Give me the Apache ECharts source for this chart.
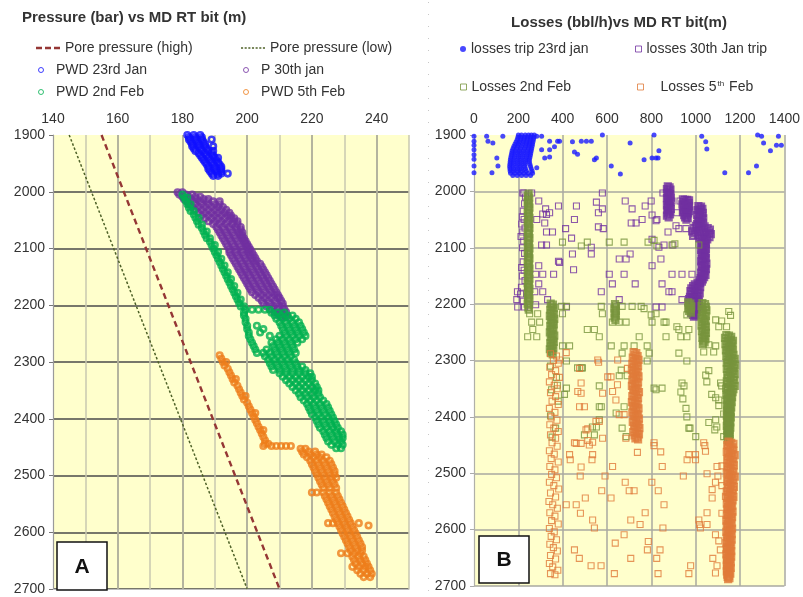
<!DOCTYPE html>
<html><head><meta charset="utf-8">
<script src="https://cdn.jsdelivr.net/npm/echarts@6/dist/echarts.min.js"></script>
<style>html,body{margin:0;padding:0;background:#fff}#c{width:803px;height:597px}</style>
</head><body><div id="c"></div>
<script>
// ---------- tick labels ----------
const leftXTicks = [140, 160, 180, 200, 220, 240];
const depthTicks = [1900, 2000, 2100, 2200, 2300, 2400, 2500, 2600, 2700];
const rightXTicks = [0, 200, 400, 600, 800, 1000, 1200, 1400];

// ---------- LEFT CHART DATA: Pressure (bar) vs MD RT bit (m) ----------
const poreHigh = [[155, 1900], [210, 2700]];
const poreLow = [[145, 1900], [200, 2700]];

// rows: [depth (m), [pressures (bar) read at that depth]]
const pwd23JanRows = [
  [1900,[181.5,183.5,185.5]],[1904,[182,184,186]],[1908,[182,184,186,189]],[1912,[182.5,184.5,186.5]],
  [1916,[183,185,187]],[1920,[183,185,187,189.5]],[1924,[183.5,185.5,187.5]],[1928,[184,186,188,189.5]],
  [1932,[185,187,189]],[1936,[185.5,187.5,189.5]],[1940,[186,188,190,191]],[1944,[186.5,188.5,190.5]],
  [1948,[187,189,191]],[1952,[187.5,189.5,191.5]],[1956,[188,190,192]],[1960,[188,190,192]],
  [1964,[188.5,190.5,192]],[1968,[189,191,192,194]],[1972,[189.5,191]]
];
const p30JanRows = [
  [2001,[178.5,180]],[2005,[179,181,183]],[2009,[180,182,184,185.5]],[2013,[180.5,182.5,184.5,186.5,188]],
  [2017,[181.5,183.5,185.5,187.5,189.5,191.5]],[2022,[182,184,186,188,190,191.5]],
  [2027,[183,185,187,189,191,192.5]],[2032,[184,186,188,190,192,193.5]],[2037,[185,187,189,191,193,194.5]],
  [2042,[186,188,190,192,194,195]],[2047,[187,189,191,193,195,196]],[2052,[188,190,192,194,196,197]],
  [2057,[189.5,191.5,193.5,195.5,197]],[2062,[190.5,192.5,194.5,196.5,198]],[2067,[191,193,195,197,198]],
  [2072,[191.5,193.5,195.5,197.5,198.5]],[2077,[192,194,196,198,198.5]],[2082,[192.5,194.5,196.5,198.5,199]],
  [2087,[193,195,197,199,199.5]],[2092,[193.5,195.5,197.5,199.5,200]],[2097,[194,196,198,200,200.5]],
  [2102,[194.5,196.5,198.5,200.5,201]],[2107,[194.5,196.5,198.5,200.5,201.5]],[2112,[195,197,199,201,202]],
  [2117,[195.5,197.5,199.5,201.5,202.5]],[2122,[196,198,200,202,203]],[2127,[196.5,198.5,200.5,202.5,204]],
  [2132,[197,199,201,203,204.5]],[2137,[197.5,199.5,201.5,203.5,205]],[2142,[198,200,202,204,205.5]],
  [2147,[198.5,200.5,202.5,204.5,206]],[2152,[199,201,203,205,206.5]],[2157,[199.5,201.5,203.5,205.5,207]],
  [2162,[200,202,204,206,207.5]],[2167,[200.5,202.5,204.5,206.5,208]],[2172,[201,203,205,207,208.5]],
  [2177,[201.5,203.5,205.5,207.5,209]],[2182,[202.5,204.5,206.5,208.5,209.5]],[2187,[203.5,205.5,207.5,209.5,210]],
  [2192,[204.5,206.5,208.5,210.5]],[2197,[205,207,209,211]],[2202,[206,208,210,211]],
  [2207,[207.5,209.5,211.5]],[2212,[208.5,210.5,212]],[2217,[209.5,211.5]],[2221,[210.5,212]]
];
const pwd2FebRows = [
  [2005,[180]],[2010,[180.5,181.5]],[2016,[181]],[2022,[181.5,182.5]],[2028,[182]],[2034,[182.5,183.5]],
  [2040,[183.5]],[2046,[184,185]],[2052,[184.5]],[2058,[185,186]],[2064,[186]],[2070,[186.5,187.5]],
  [2076,[187]],[2082,[187.5,188.5]],[2088,[188.5]],[2094,[189,190]],[2100,[189.5]],[2106,[190,191]],
  [2112,[190.5]],[2118,[191,192]],[2124,[191.5]],[2130,[192,193]],[2136,[192.5]],[2142,[193,194]],
  [2148,[193.5]],[2154,[194,195]],[2160,[194.5]],[2166,[195,196]],[2172,[195.5]],[2178,[196,197]],
  [2184,[196.5]],[2190,[197,198]],[2196,[197.5]],[2202,[198,199]],
  [2208,[199.5,201.5,203.5,205.5,207]],[2213,[199,207.5,209.5,211.5]],[2218,[199,208.5,210.5,212.5,214]],
  [2224,[199.5,209,211,213,215]],[2230,[199.5,210,212,214,216]],[2236,[200,203,210.5,212.5,214.5,216.5]],
  [2242,[200,205,211,213,215,217]],[2248,[200.5,204,211.5,213.5,215.5,217.5]],
  [2254,[200.5,207,210,212,214,216,218]],[2260,[201,209,211,213,215,217]],
  [2266,[201.5,207.5,209.5,211.5,213.5,215.5]],[2272,[202,208,210,212,214]],
  [2278,[202.5,206,208.5,210.5,212.5,214.5]],[2284,[203,205,207,209,211,213,215]],
  [2290,[205.5,207.5,209.5,211.5,213.5]],[2296,[206.5,208.5,210.5,212.5,214.5]],
  [2302,[207,209,211,213,215]],[2308,[207.5,209.5,211.5,213.5,215.5,217]],
  [2314,[208,210,212,214,216,218]],[2320,[210,212,214,216,218,219.5]],[2326,[211,213,215,217,219,220]],
  [2332,[212,214,216,218,220]],[2338,[213,215,217,219,221]],[2344,[214,216,218,220,221.5]],
  [2350,[215,217,219,221,222]],[2356,[216,218,220,222]],[2362,[216.5,218.5,220.5,222.5]],
  [2368,[217.5,219.5,221.5,223.5]],[2374,[218.5,220.5,222.5,224.5]],[2380,[219,221,223,225]],
  [2386,[219.5,221.5,223.5,225.5]],[2392,[220,222,224,226]],[2398,[221,223,225,226.5]],
  [2404,[221.5,223.5,225.5,227]],[2410,[222,224,226,227.5]],[2416,[222.5,224.5,226.5,228]],
  [2422,[223.5,225.5,227.5,229]],[2428,[224,226,228,229.5]],[2434,[224.5,226.5,228.5,229.5]],
  [2440,[225,227,229]],[2446,[226,228,229.5]],[2452,[227.5,229]]
];
const pwd5FebRows = [
  [2288,[191.5]],[2294,[192]],[2300,[192.5,193.5]],[2306,[193]],[2312,[194]],[2318,[194.5]],
  [2324,[195]],[2330,[195.5,196.5]],[2336,[196]],[2342,[197]],[2348,[197.5]],[2354,[198]],
  [2360,[198.5,199.5]],[2366,[199]],[2372,[200]],[2378,[200.5]],[2384,[201]],[2390,[201.5,202.5]],
  [2396,[202]],[2402,[202.5]],[2408,[203]],[2414,[203.5]],[2420,[204,205]],[2426,[204.5]],
  [2432,[205]],[2438,[205.5]],[2444,[205.5,206.5]],[2448,[205,207.5,209,210.5,212,213.5]],
  [2453,[216.5,218]],[2458,[217,219,221]],[2463,[217.5,219.5,221.5,223]],[2468,[218.5,220.5,222.5,224.5]],
  [2474,[219.5,221.5,223.5,225.5]],[2480,[220,222,224,226]],[2486,[220.5,222.5,224.5,226.5]],
  [2492,[221,223,225,227]],[2498,[221.5,223.5,225.5,227]],[2504,[222,224,226,227.5]],
  [2510,[222.5,224.5,226.5]],[2516,[223,225,227]],[2522,[223.5,225.5,227.5]],
  [2530,[220,221.5,223.5,225.5,227.5]],[2536,[224,226,228]],[2542,[224.5,226.5,228.5]],
  [2548,[225,227,229]],[2554,[225.5,227.5,229.5]],[2560,[226,228,230]],[2566,[226.5,228.5,230.5]],
  [2572,[227,229,231]],[2578,[227.5,229.5,231.5]],[2584,[225,226.5,228,230,232,234.5]],[2588,[237.5]],
  [2590,[228.5,230.5,232.5]],[2596,[229,231,233]],[2602,[229.5,231.5,233.5]],[2608,[230,232,234]],
  [2614,[230.5,232.5,234.5]],[2620,[231,233,235]],[2626,[231.5,233.5,235.5]],[2632,[232,234,235.5]],
  [2637,[229,231,233,235]],[2643,[232.5,234.5,236]],[2649,[233,235,236.5]],[2655,[233.5,235.5,237]],
  [2661,[232.5,234.5,236.5,237.5]],[2667,[234,236,238]],[2673,[235,237,238.5]],[2679,[236,238]]
];

// ---------- RIGHT CHART DATA: Losses (bbl/h) vs MD RT bit (m) ----------
const trip23JanClusterRows = [
  [1900,[200,214,231,246,259,272]],[1904,[198,212,228,242,256,270]],[1908,[195,210,225,240,255,268]],
  [1912,[190,205,222,238,252,266]],[1916,[185,200,218,235,250,264]],[1920,[180,196,214,232,248,262]],
  [1924,[176,192,210,228,245,260]],[1928,[172,188,206,224,242,258]],[1932,[170,186,204,222,240,256]],
  [1936,[168,184,202,220,238,254]],[1940,[166,182,200,218,236,252]],[1944,[164,180,198,216,234,250]],
  [1948,[163,178,196,214,232,250]],[1952,[162,177,195,213,231,252]],[1956,[161,176,194,212,230,255]],
  [1960,[162,178,196,214,232,258]],[1964,[163,180,198,216,236,262]],[1968,[165,184,204,224,244,264]],
  [1972,[175,195,215,235,255]]
];
const trip23JanScatter = [
  [0,1902],[0,1911],[0,1918],[0,1926],[0,1935],[0,1943],[0,1955],[0,1967],
  [57,1902],[63,1911],[85,1914],[130,1902],[103,1941],[108,1955],[81,1967],
  [283,1902],[305,1902],[341,1911],[377,1911],[386,1911],[305,1926],[341,1926],[363,1921],
  [319,1941],[341,1939],[283,1958],[444,1912],[453,1930],[467,1934],[484,1911],[507,1911],[529,1911],
  [579,1900],[552,1941],[543,1944],[619,1955],[660,1969],[704,1914],[767,1944],[803,1941],[821,1941],
  [830,1941],[812,1900],[834,1928],[1027,1902],[1045,1912],[1050,1925],[1131,1967],[1238,1967],
  [1274,1955],[1279,1900],[1297,1902],[1306,1914],[1337,1928],[1373,1902],[1364,1918],[1386,1918]
];
const trip30JanScatter = [
  [225,2003],[232,2010],[228,2022],[222,2035],[218,2045],[226,2050],[215,2058],[230,2065],[220,2072],
  [212,2080],[224,2088],[219,2100],[228,2110],[222,2125],[215,2135],[226,2140],[218,2150],[230,2158],
  [214,2170],[196,2178],[210,2182],[193,2192],[222,2195],[197,2205],[228,2205],
  [220,2003],[260,2003],[292,2017],[381,2026],[462,2026],[579,2003],[552,2019],[579,2031],[561,2038],
  [682,2017],[713,2031],[772,2026],[799,2017],[803,2042],[852,2003],[893,2017],[929,2017],[915,2038],
  [323,2031],[341,2038],[327,2041],[283,2050],[310,2040],[453,2050],[319,2056],[327,2072],[354,2072],
  [413,2066],[583,2066],[709,2056],[731,2056],[758,2050],[825,2050],[875,2072],[924,2066],[956,2066],
  [305,2095],[327,2095],[440,2083],[529,2099],[803,2085],[834,2099],[857,2095],[897,2095],[444,2111],
  [529,2111],[655,2120],[686,2120],[704,2111],[803,2132],[843,2120],[381,2124],[386,2126],[292,2132],
  [449,2139],[610,2147],[677,2147],[727,2164],[624,2164],[848,2164],[893,2147],[938,2147],[983,2147],
  [278,2147],[310,2147],[359,2147],[292,2164],[274,2178],[310,2178],[574,2178],[655,2192],[332,2192],
  [879,2178],[893,2178],[938,2192],[278,2201],[417,2205],[821,2205],[848,2205],[561,2063],[821,2052],
  [911,2061]
];
const trip30JanDense = [
  [874,1991],[882,1993],[870,1996],[886,1997],[878,2000],[872,2003],[884,2005],[876,2008],[888,2011],
  [870,2012],[880,2015],[874,2018],[886,2019],[878,2022],[870,2025],[884,2026],[876,2029],[888,2031],
  [872,2033],[880,2036],[874,2039],[884,2041],[870,2043],[878,2046],
  [942,2014],[952,2015],[962,2015],[970,2016],[946,2019],[958,2020],[968,2021],[940,2023],[950,2024],
  [962,2025],[970,2026],[944,2028],[956,2029],[966,2030],[948,2033],[960,2034],[970,2035],[942,2037],
  [954,2038],[966,2039],[948,2042],[960,2043],[952,2046],[964,2047],[958,2050],
  [1012,2026],[1024,2027],[1018,2030],[1030,2031],[1008,2033],[1022,2034],[1014,2037],[1032,2038],
  [1020,2041],[1006,2042],[1028,2044],[1016,2046],[1034,2048],[1010,2050],[1024,2052],[1016,2054],
  [1032,2056],[1006,2058],[1022,2059],[1000,2061],[1040,2062],[1014,2063],[990,2065],[1054,2065],
  [1028,2066],[1064,2068],[1004,2069],[1046,2070],[984,2071],[1020,2072],[1060,2073],[996,2074],
  [1036,2075],[1068,2076],[1010,2077],[1050,2078],[988,2079],[1026,2080],[1062,2081],[1040,2082],
  [1016,2083],[1052,2085],[1030,2086],[1044,2088],[1024,2090],[1038,2092],[1046,2094],[1028,2096],
  [1040,2098],[1032,2100],[1046,2102],[1024,2104],[1038,2106],[1030,2108],[1044,2110],[1026,2112],
  [1040,2114],[1034,2116],[1046,2118],[1028,2120],[1040,2122],[1024,2124],[1036,2126],[1048,2128],
  [1030,2130],[1042,2132],[1026,2134],[1038,2136],[1046,2138],[1030,2140],[1040,2142],[1024,2144],
  [1036,2146],[1044,2148],[1028,2150],[1038,2152],[1022,2154],[1032,2156],[1018,2158],[1028,2160],
  [1008,2162],[1020,2163],[996,2165],[1012,2166],[988,2168],[1004,2169],[1020,2170],[980,2172],
  [996,2173],[1012,2175],[976,2177],[990,2178],[1006,2179],[1018,2181],[982,2182],[998,2184],
  [1012,2185],[974,2187],[990,2188],[1006,2189],[970,2191],[984,2192],[1000,2193],[1014,2195],
  [976,2196],[992,2197],[1006,2199],[970,2200],[986,2201],[1000,2203],[1014,2204],[978,2205],
  [994,2207],[1008,2208],[982,2210],[998,2211],[988,2213],[1004,2214],[980,2216],[996,2217],
  [988,2219],[1000,2220],[992,2222]
];
const losses2FebScatter = [
  [511,2090],[677,2090],[785,2090],[812,2087],[893,2095],[906,2093],[399,2090],[1014,2095],[484,2097],
  [610,2090],[825,2097],[251,2217],[287,2217],[260,2232],[296,2232],[265,2245],[395,2204],[399,2217],
  [417,2204],[574,2204],[579,2217],[668,2204],[713,2204],[754,2204],[767,2208],[799,2219],[821,2217],
  [857,2232],[960,2219],[915,2240],[1090,2228],[1117,2230],[1149,2213],[1157,2220],[1139,2240],[1104,2240],
  [242,2258],[283,2258],[624,2232],[655,2232],[686,2232],[803,2232],[866,2232],[924,2245],[969,2245],
  [511,2245],[543,2245],[565,2258],[745,2258],[866,2258],[933,2258],[960,2258],[619,2274],[677,2274],
  [722,2274],[781,2274],[431,2274],[399,2274],[1059,2272],[1090,2274],[1081,2285],[1036,2285],[668,2287],
  [790,2287],[924,2287],[781,2301],[960,2301],[417,2301],[489,2313],[467,2313],[655,2327],[691,2327],
  [812,2349],[848,2349],[938,2340],[933,2356],[1045,2326],[1050,2338],[1112,2340],[1135,2349],[1090,2366],
  [1104,2370],[565,2382],[641,2393],[677,2382],[552,2418],[534,2418],[668,2420],[686,2435],[969,2420],
  [1000,2435],[1090,2405],[1095,2418],[417,2349],[484,2313],[664,2317],[565,2345],[565,2405],[574,2382],
  [821,2352],[947,2345],[942,2368],[956,2385],[960,2400],[974,2420],[1059,2410],[1086,2423],[1126,2435],
  [1059,2318],[1117,2345],[1072,2360],[1104,2380],[1126,2395],[498,2432],[543,2432],[408,2360],
  [345,2310],[372,2330],[350,2352],[380,2372],[345,2398],[368,2420],[352,2436],[376,2344]
];
const losses2FebDense = [
  [246,2004],[243,2008],[249,2011],[245,2015],[242,2019],[248,2022],[244,2026],[250,2029],[246,2033],
  [242,2037],[248,2040],[244,2044],[250,2047],[246,2051],[242,2055],[248,2058],[244,2062],[250,2065],
  [246,2069],[242,2073],[248,2076],[244,2080],[250,2083],[246,2087],[242,2091],[248,2094],[244,2098],
  [250,2101],[246,2105],[242,2109],[248,2112],[244,2116],[250,2119],[246,2123],[242,2127],[248,2130],
  [244,2134],[250,2137],[246,2141],[242,2145],[248,2148],[244,2152],[250,2155],[246,2159],[242,2163],
  [248,2166],[244,2170],[250,2173],[246,2177],[242,2181],[248,2184],[244,2188],[250,2191],[246,2195],
  [242,2199],[248,2202],[245,2206],[247,2210],
  [346,2199],[356,2201],[350,2205],[360,2207],[344,2210],[354,2212],[348,2216],[360,2218],[342,2221],
  [352,2223],[362,2226],[346,2228],[356,2231],[350,2234],[360,2236],[344,2239],[354,2242],[348,2245],
  [358,2247],[342,2250],[352,2253],[362,2256],[346,2258],[356,2261],[350,2264],[360,2267],[344,2269],
  [354,2272],[348,2275],[358,2278],[342,2280],[352,2283],[346,2286],[355,2289],
  [636,2200],[640,2204],[633,2208],[640,2212],[635,2216],[640,2220],[634,2224],[638,2228],
  [966,2197],[976,2199],[970,2202],[980,2204],[966,2207],[976,2209],[970,2212],[978,2215],
  [1030,2198],[1042,2200],[1026,2203],[1046,2205],[1034,2208],[1048,2211],[1028,2213],[1040,2216],
  [1032,2219],[1046,2221],[1026,2224],[1038,2227],[1044,2230],[1030,2232],[1040,2235],[1026,2238],
  [1046,2240],[1034,2243],[1042,2246],[1028,2248],[1046,2251],[1036,2254],[1040,2257],[1030,2260],
  [1044,2262],[1034,2265],[1040,2268],[1032,2271],
  [1138,2255],[1150,2256],[1160,2258],[1132,2260],[1146,2261],[1158,2263],[1168,2265],[1140,2266],
  [1152,2268],[1164,2270],[1134,2271],[1148,2273],[1160,2275],[1142,2277],[1156,2278],[1168,2280],
  [1136,2282],[1150,2283],[1162,2285],[1144,2287],[1156,2289],[1170,2290],[1138,2292],[1150,2294],
  [1164,2295],[1176,2297],[1144,2299],[1158,2300],[1170,2302],[1140,2304],[1152,2305],[1166,2307],
  [1178,2309],[1146,2310],[1160,2312],[1172,2314],[1140,2315],[1154,2317],[1168,2319],[1148,2321],
  [1162,2322],[1176,2324],[1142,2326],[1156,2328],[1170,2329],[1146,2331],[1160,2333],[1174,2335],
  [1140,2337],[1154,2338],[1168,2340],[1148,2342],[1162,2344],[1176,2345],[1144,2347],[1158,2349],
  [1170,2351],[1140,2352],[1154,2354],[1166,2356],[1146,2358],[1160,2359],[1138,2361],[1152,2363],
  [1164,2365],[1144,2367],[1158,2368],[1140,2370],[1152,2372],[1162,2374],[1146,2376],[1156,2378],
  [1140,2380],[1152,2381],[1160,2383],[1144,2385],[1154,2387],[1142,2389],[1150,2391],[1158,2392],
  [1144,2394],[1154,2396],[1140,2398],[1150,2400],[1158,2401],[1144,2403],[1152,2405],[1142,2407],
  [1150,2409],[1156,2410],[1144,2412],[1152,2414],[1140,2416],[1150,2418],[1156,2419],[1144,2421],
  [1152,2423],[1142,2425],[1150,2427],[1146,2429],[1154,2431],[1142,2433],[1150,2435],[1146,2437],
  [1152,2439],[1144,2441],[1150,2443]
];
const losses5FebScatter = [
  [345,2288],[372,2292],[358,2300],[380,2305],[342,2312],[368,2318],[350,2325],[385,2330],[340,2338],
  [362,2344],[375,2350],[345,2357],[368,2364],[352,2372],[380,2378],[340,2385],[365,2392],[348,2400],
  [374,2406],[342,2414],[360,2420],[380,2426],[345,2432],[368,2438],[352,2446],[375,2452],[340,2460],
  [362,2466],[348,2474],[380,2480],[342,2488],[365,2494],[350,2502],[372,2508],[340,2516],[360,2522],
  [382,2528],[345,2535],[368,2542],[338,2550],[355,2556],[376,2562],[342,2570],[365,2576],[350,2584],
  [380,2590],[340,2598],[362,2604],[348,2612],[372,2618],[342,2626],[358,2632],[376,2638],[345,2646],
  [368,2652],[340,2660],[355,2666],[378,2672],[345,2678],[365,2680],
  [416,2286],[386,2299],[562,2303],[558,2299],[648,2299],[476,2314],[692,2314],[603,2329],[618,2329],
  [483,2340],[647,2343],[468,2355],[483,2358],[580,2358],[625,2355],[640,2370],[476,2382],[498,2382],
  [677,2396],[655,2396],[550,2408],[565,2408],[505,2423],[513,2421],[580,2438],[685,2438],[461,2447],
  [483,2447],[513,2442],[520,2450],[535,2445],[453,2446],[812,2446],[1036,2446],[737,2463],[842,2462],
  [1044,2461],[969,2467],[999,2467],[431,2467],[535,2467],[812,2451],[1041,2451],
  [434,2476],[532,2476],[961,2476],[999,2476],[483,2489],[625,2488],[849,2488],[1096,2488],[1118,2487],
  [479,2505],[591,2505],[944,2505],[1051,2501],[1100,2505],[682,2516],[802,2516],[1089,2516],[576,2531],
  [700,2531],[722,2531],[831,2531],[1074,2529],[1118,2522],[502,2544],[618,2544],[1074,2544],[1134,2541],
  [416,2556],[461,2556],[857,2556],[480,2571],[772,2570],[1051,2570],[1118,2571],[535,2583],[707,2583],
  [1014,2583],[749,2591],[1051,2591],[1017,2591],[543,2597],[852,2597],[1021,2597],[677,2609],[1089,2609],
  [637,2624],[786,2621],[1104,2620],[782,2636],[839,2636],[453,2636],[1111,2636],[475,2651],[707,2651],
  [824,2651],[1077,2651],[1096,2664],[528,2664],[573,2664],[977,2664],[633,2678],[830,2678],[969,2678],
  [1089,2677]
];
const losses5FebDense = [
  [720,2285],[732,2287],[726,2290],[738,2292],[716,2295],[730,2297],[742,2299],[722,2301],[734,2304],
  [714,2306],[728,2308],[740,2310],[720,2312],[732,2315],[712,2317],[726,2319],[738,2321],[718,2323],
  [730,2326],[742,2328],[722,2330],[734,2332],[714,2334],[728,2337],[740,2339],[720,2341],[732,2343],
  [712,2345],[726,2348],[738,2350],[718,2352],[730,2354],[744,2356],[722,2359],[734,2361],[714,2363],
  [728,2365],[740,2367],[720,2370],[732,2372],[712,2374],[726,2376],[738,2378],[718,2381],[730,2383],
  [742,2385],[722,2387],[734,2389],[714,2392],[728,2394],[740,2396],[720,2398],[732,2400],[744,2403],
  [724,2405],[736,2407],[716,2409],[730,2411],[742,2414],[722,2416],[734,2418],[746,2420],[726,2422],
  [738,2425],[718,2427],[732,2429],[744,2431],[724,2433],[736,2436],[728,2438],[740,2440],
  [1148,2444],[1160,2446],[1170,2448],[1142,2450],[1154,2452],[1166,2454],[1146,2456],[1158,2458],
  [1170,2460],[1140,2462],[1152,2464],[1164,2466],[1176,2468],[1146,2470],[1158,2472],[1170,2474],
  [1142,2476],[1154,2478],[1166,2480],[1148,2482],[1160,2484],[1172,2486],[1142,2488],[1154,2490],
  [1166,2492],[1146,2494],[1158,2496],[1170,2498],[1140,2500],[1152,2502],[1164,2504],[1176,2506],
  [1146,2508],[1158,2510],[1170,2512],[1142,2514],[1154,2516],[1166,2518],[1148,2520],[1160,2522],
  [1172,2524],[1144,2526],[1156,2528],[1168,2530],[1140,2532],[1152,2534],[1164,2536],[1146,2538],
  [1158,2540],[1170,2542],[1142,2544],[1154,2546],[1166,2548],[1148,2550],[1160,2552],[1140,2554],
  [1152,2556],[1164,2558],[1146,2560],[1158,2562],[1142,2564],[1154,2566],[1166,2568],[1148,2570],
  [1160,2572],[1140,2574],[1152,2576],[1164,2578],[1146,2580],[1158,2582],[1138,2584],[1150,2586],
  [1162,2588],[1144,2590],[1156,2592],[1140,2594],[1152,2596],[1164,2598],[1146,2600],[1158,2602],
  [1138,2604],[1150,2606],[1162,2608],[1144,2610],[1156,2612],[1140,2614],[1152,2616],[1162,2618],
  [1144,2620],[1156,2622],[1138,2624],[1150,2626],[1160,2628],[1142,2630],[1154,2632],[1140,2634],
  [1150,2636],[1160,2638],[1144,2640],[1156,2642],[1138,2644],[1150,2646],[1160,2648],[1142,2650],
  [1154,2652],[1140,2654],[1150,2656],[1158,2658],[1142,2660],[1152,2662],[1140,2664],[1150,2666],
  [1158,2668],[1142,2670],[1152,2672],[1140,2674],[1150,2676],[1156,2678],[1142,2680],[1150,2682],
  [1144,2684],[1152,2686],[1146,2688]
];

// ---------- build ----------
function fromRows(rows) {
  const out = [];
  rows.forEach(function (r) { r[1].forEach(function (x) { out.push([x, r[0]]); }); });
  return out;
}
const FONT = "'Liberation Sans', Arial, sans-serif";
const TXT = '#333';
const C = { high: '#953735', low: '#4f6228', blue: '#1010ff', purple: '#7030a0', green: '#00b050',
  orange: '#ee7d1a', rBlue: '#1a1aff', rGreen: '#77933c', rOrange: '#e07b39' };

function hollow(color, bw) { return { color: 'rgba(0,0,0,0)', borderColor: color, borderWidth: bw }; }

const DASH_ICON = 'path://M0,0h6v2.4h-6z M9,0h6v2.4h-6z M18,0h6v2.4h-6z';
const DOT_ICON = 'path://M0,0h2v1.6h-2z M3.5,0h2v1.6h-2z M7,0h2v1.6h-2z M10.5,0h2v1.6h-2z M14,0h2v1.6h-2z M17.5,0h2v1.6h-2z M21,0h2v1.6h-2z';

function legendItem(name, left, top, w, h, icon, gap) {
  const item = icon ? { name: name, icon: icon } : name;
  return {
    data: [item], left: left, top: top, padding: 0, itemWidth: w, itemHeight: h, itemGap: 0,
    selectedMode: false, itemStyle: { borderWidth: 1 },
    textStyle: { fontFamily: FONT, fontSize: 14, color: TXT,
      rich: { sup: { fontSize: 8, verticalAlign: 'top', color: TXT, fontFamily: FONT, padding: [0, 1, 6, 1] },
              gap: { width: gap || 0 } } },
    formatter: function (n) { return n === 'Losses 5th Feb' ? '{gap|}Losses 5{sup|th} Feb' : n; }
  };
}

const chart = echarts.init(document.getElementById('c'), null, { renderer: 'canvas' });
const option = {
  animation: false,
  backgroundColor: '#fff',
  textStyle: { fontFamily: FONT },
  title: [
    { text: 'Pressure (bar) vs MD RT bit (m)', left: 22, top: 10, padding: 0,
      textStyle: { fontFamily: FONT, fontSize: 15, fontWeight: 'bold', color: TXT } },
    { text: 'Losses (bbl/h)vs MD RT bit(m)', left: 619, top: 15, padding: 0, textAlign: 'center',
      textStyle: { fontFamily: FONT, fontSize: 15, fontWeight: 'bold', color: TXT } }
  ],
  legend: [
    legendItem('Pore pressure (high)', 36, 41, 24, 3, DASH_ICON),
    legendItem('Pore pressure (low)', 241, 41, 24, 2, DOT_ICON),
    legendItem('PWD 23rd Jan', 38, 63, 20, 5),
    legendItem('P 30th jan', 243, 63, 20, 5),
    legendItem('PWD 2nd Feb', 38, 85, 20, 5),
    legendItem('PWD 5th Feb', 243, 85, 20, 5),
    legendItem('losses trip 23rd jan', 460, 42, 6, 6),
    legendItem('losses 30th Jan trip', 635, 42, 6, 6),
    legendItem('Losses 2nd Feb', 460, 80, 6, 6),
    legendItem('Losses 5th Feb', 637, 80, 6, 6, null, 12)
  ],
  grid: [
    { left: 53, top: 135, width: 356, height: 454, show: true, backgroundColor: '#ffffcc', borderWidth: 0 },
    { left: 474, top: 135, width: 312, height: 451, show: true, backgroundColor: '#ffffcc', borderWidth: 0 }
  ],
  xAxis: [
    { gridIndex: 0, type: 'value', position: 'top', min: 140, max: 250, interval: 20,
      axisLine: { show: false }, axisTick: { show: false },
      axisLabel: { fontFamily: FONT, fontSize: 14, color: TXT, margin: 9,
        formatter: function (v) { return leftXTicks.indexOf(v) >= 0 ? String(v) : ''; } },
      splitLine: { show: true, showMinLine: false, showMaxLine: false, lineStyle: { color: '#4a4a4a', width: 1.5 } } },
    { gridIndex: 0, type: 'value', position: 'bottom', min: 140, max: 250, interval: 10,
      axisLine: { show: true, lineStyle: { color: '#bfbfbf', width: 1 } }, axisTick: { show: false },
      axisLabel: { show: false },
      splitLine: { show: true, showMinLine: false, lineStyle: { color: '#c9c9b0', width: 1.5 } } },
    { gridIndex: 1, type: 'value', position: 'top', min: 0, max: 1400, interval: 200,
      axisLine: { show: false }, axisTick: { show: false },
      axisLabel: { fontFamily: FONT, fontSize: 14, color: TXT, margin: 9,
        formatter: function (v) { return rightXTicks.indexOf(v) >= 0 ? String(v) : ''; } },
      splitLine: { show: true, showMinLine: false, lineStyle: { color: '#a8a8a0', width: 1.5 } } }
  ],
  yAxis: [
    { gridIndex: 0, type: 'value', inverse: true, min: 1900, max: 2700, interval: 100,
      axisLine: { show: true, lineStyle: { color: '#9a9a9a', width: 1.2 } },
      axisTick: { show: true, length: 4, lineStyle: { color: '#777' } },
      axisLabel: { fontFamily: FONT, fontSize: 14, color: TXT, margin: 8,
        formatter: function (v) { return depthTicks.indexOf(v) >= 0 ? String(v) : ''; } },
      splitLine: { show: true, showMinLine: false, lineStyle: { color: '#4a4a4a', width: 1.5 } } },
    { gridIndex: 1, type: 'value', inverse: true, min: 1900, max: 2700, interval: 100,
      axisLine: { show: true, lineStyle: { color: '#b0b0a8', width: 1.2 } },
      axisTick: { show: true, length: 4, lineStyle: { color: '#aaa' } },
      axisLabel: { fontFamily: FONT, fontSize: 14, color: TXT, margin: 8,
        formatter: function (v) { return depthTicks.indexOf(v) >= 0 ? String(v) : ''; } },
      splitLine: { show: true, showMinLine: false, lineStyle: { color: '#a8a8a0', width: 1.5 } } }
  ],
  series: [
    { name: 'Pore pressure (high)', type: 'line', xAxisIndex: 0, yAxisIndex: 0, data: poreHigh,
      symbol: 'none', color: C.high, lineStyle: { color: C.high, width: 2.4, type: [6, 4] } },
    { name: 'Pore pressure (low)', type: 'line', xAxisIndex: 0, yAxisIndex: 0, data: poreLow,
      symbol: 'none', color: C.low, lineStyle: { color: C.low, width: 1.5, type: [2.5, 2] } },
    { name: 'PWD 23rd Jan', type: 'scatter', xAxisIndex: 0, yAxisIndex: 0, data: fromRows(pwd23JanRows),
      symbol: 'circle', symbolSize: 5.5, itemStyle: hollow(C.blue, 2.6) },
    { name: 'P 30th jan', type: 'scatter', xAxisIndex: 0, yAxisIndex: 0, data: fromRows(p30JanRows),
      symbol: 'circle', symbolSize: 5.5, itemStyle: hollow(C.purple, 2.6) },
    { name: 'PWD 2nd Feb', type: 'scatter', xAxisIndex: 0, yAxisIndex: 0, data: fromRows(pwd2FebRows),
      symbol: 'circle', symbolSize: 5.5, itemStyle: hollow(C.green, 2.6) },
    { name: 'PWD 5th Feb', type: 'scatter', xAxisIndex: 0, yAxisIndex: 0, data: fromRows(pwd5FebRows),
      symbol: 'circle', symbolSize: 5.5, itemStyle: hollow(C.orange, 2.6) },

    { name: 'losses trip 23rd jan', type: 'scatter', xAxisIndex: 2, yAxisIndex: 1,
      data: fromRows(trip23JanClusterRows).concat(trip23JanScatter),
      symbol: 'circle', symbolSize: 5, itemStyle: { color: C.rBlue } },
    { name: 'losses 30th Jan trip', type: 'scatter', xAxisIndex: 2, yAxisIndex: 1, data: trip30JanScatter,
      symbol: 'rect', symbolSize: 6, itemStyle: hollow(C.purple, 1.1) },
    { name: 'losses 30th Jan trip', type: 'scatter', xAxisIndex: 2, yAxisIndex: 1, data: trip30JanDense,
      symbol: 'rect', symbolSize: 6, itemStyle: hollow(C.purple, 2.2) },
    { name: 'Losses 2nd Feb', type: 'scatter', xAxisIndex: 2, yAxisIndex: 1, data: losses2FebScatter,
      symbol: 'rect', symbolSize: 6, itemStyle: hollow(C.rGreen, 1.1) },
    { name: 'Losses 2nd Feb', type: 'scatter', xAxisIndex: 2, yAxisIndex: 1, data: losses2FebDense,
      symbol: 'rect', symbolSize: 6, itemStyle: hollow(C.rGreen, 2.2) },
    { name: 'Losses 5th Feb', type: 'scatter', xAxisIndex: 2, yAxisIndex: 1, data: losses5FebScatter,
      symbol: 'rect', symbolSize: 6, itemStyle: hollow(C.rOrange, 1.1) },
    { name: 'Losses 5th Feb', type: 'scatter', xAxisIndex: 2, yAxisIndex: 1, data: losses5FebDense,
      symbol: 'rect', symbolSize: 6, itemStyle: hollow(C.rOrange, 2.2) }
  ],
  graphic: [
    { type: 'line', shape: { x1: 428.5, y1: 2, x2: 428.5, y2: 595 }, silent: true,
      style: { stroke: '#c8c8c8', lineWidth: 1, lineDash: [1, 11] } },
    { type: 'rect', shape: { x: 57, y: 542, width: 50, height: 48 }, z: 100,
      style: { fill: '#fff', stroke: '#111', lineWidth: 1.5 } },
    { type: 'text', x: 82, y: 567, z: 101,
      style: { text: 'A', fill: '#111', font: "bold 21px 'Liberation Sans', Arial, sans-serif", textAlign: 'center', textVerticalAlign: 'middle' } },
    { type: 'rect', shape: { x: 479, y: 536, width: 50, height: 47 }, z: 100,
      style: { fill: '#fff', stroke: '#111', lineWidth: 1.5 } },
    { type: 'text', x: 504, y: 560, z: 101,
      style: { text: 'B', fill: '#111', font: "bold 21px 'Liberation Sans', Arial, sans-serif", textAlign: 'center', textVerticalAlign: 'middle' } }
  ]
};
chart.setOption(option);
</script></body></html>
